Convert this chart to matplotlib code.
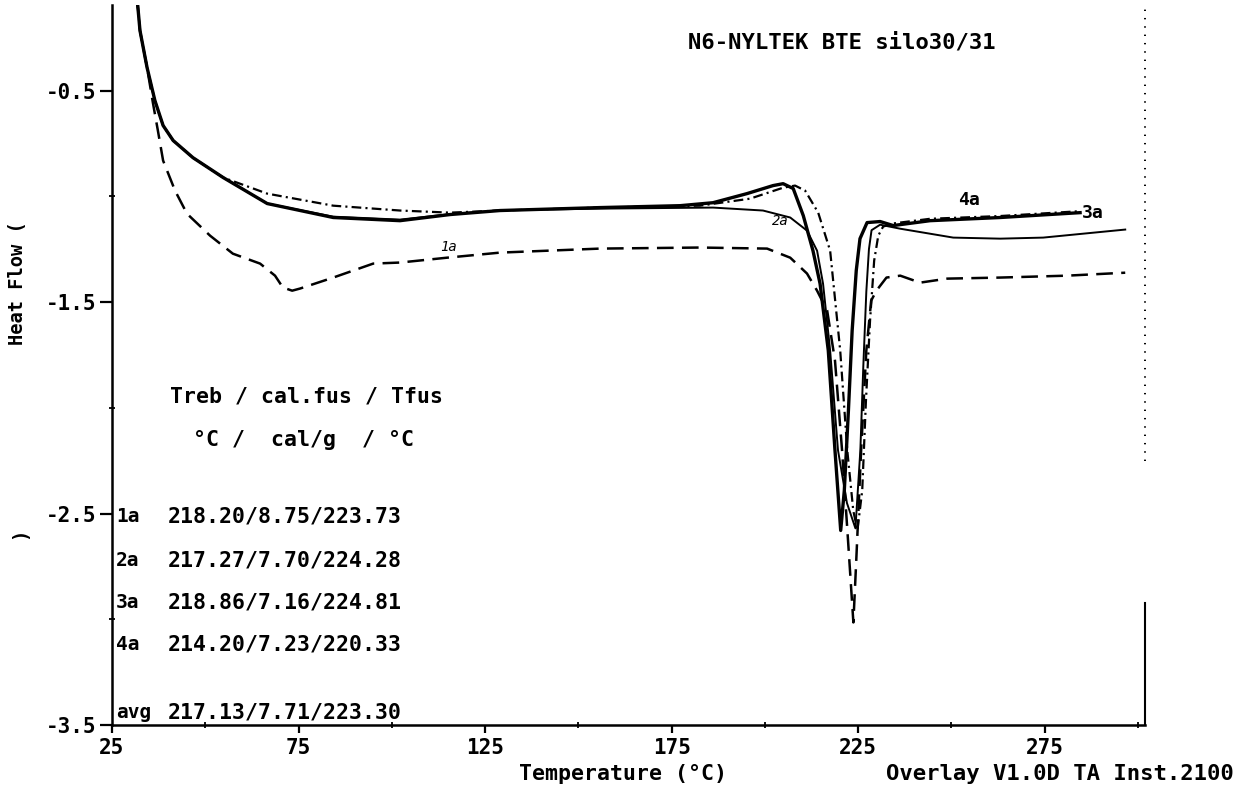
import matplotlib
matplotlib.use("Agg")
import matplotlib.pyplot as plt
from matplotlib.ticker import MultipleLocator

plt.rcParams['font.family'] = ['DejaVu Sans Mono', 'DejaVu Sans']
plt.rcParams['font.weight'] = 'bold'
plt.rcParams['axes.unicode_minus'] = False
plt.rcParams['lines.scale_dashes'] = False

# DSC overlay, heat flow vs temperature for four runs
t_1a = [31.5, 32.5, 34.4, 36.0, 37.3, 38.7, 41.9, 45.1, 51.3, 57.4, 64.7, 68.7,
        70.8, 73.3, 75.4, 84.3, 95.0, 102.2, 114.8, 129.0, 155.8, 182.6, 200.6,
        206.8, 211.3, 214.0, 216.7, 218.8, 220.7, 222.3, 223.73, 224.5, 225.8,
        227.2, 228.5, 229.9, 232.6, 236.3, 241.6, 248.9, 263.1, 281.0, 296.6]
hf_1a = [-0.02, -0.216, -0.391, -0.561, -0.689, -0.831, -0.973, -1.082, -1.186,
         -1.271, -1.318, -1.375, -1.431, -1.446, -1.436, -1.384, -1.318, -1.313,
         -1.29, -1.266, -1.247, -1.242, -1.247, -1.29, -1.365, -1.446, -1.54,
         -1.777, -2.202, -2.628, -3.015, -2.722, -2.202, -1.729, -1.493, -1.446,
         -1.384, -1.375, -1.408, -1.389, -1.384, -1.375, -1.361]

t_2a = [31.5, 32.5, 34.4, 36.5, 38.7, 41.4, 46.7, 54.8, 66.6, 84.3, 102.2,
        115.6, 129.0, 155.8, 186.1, 199.5, 206.8, 211.3, 214.0, 215.6, 217.5,
        219.6, 222.0, 224.28, 225.6, 226.4, 227.2, 227.9, 228.6, 230.9, 236.3,
        250.5, 263.1, 274.6, 296.6]
hf_2a = [-0.02, -0.216, -0.391, -0.547, -0.665, -0.736, -0.817, -0.911, -1.034,
         -1.096, -1.11, -1.084, -1.066, -1.058, -1.053, -1.067, -1.1, -1.162,
         -1.257, -1.413, -1.729, -2.2, -2.45, -2.57, -2.2, -1.8, -1.45, -1.25,
         -1.16, -1.134, -1.153, -1.195, -1.2, -1.195, -1.157]

t_3a = [31.5, 32.5, 34.4, 36.5, 38.7, 41.4, 46.7, 54.8, 66.6, 84.3, 102.2,
        115.6, 129.0, 155.8, 182.6, 196.0, 204.9, 208.1, 210.8, 214.3, 217.5,
        220.2, 222.1, 223.7, 224.81, 226.1, 227.1, 228.2, 229.3, 230.4, 231.7,
        234.4, 244.3, 263.1, 284.5]
hf_3a = [-0.02, -0.216, -0.391, -0.547, -0.665, -0.736, -0.817, -0.911, -0.987,
         -1.044, -1.067, -1.077, -1.067, -1.053, -1.044, -1.011, -0.959, -0.949,
         -0.973, -1.077, -1.257, -1.729, -2.202, -2.486, -2.58, -2.391, -1.966,
         -1.587, -1.304, -1.186, -1.143, -1.128, -1.106, -1.093, -1.07]

t_4a = [31.5, 32.5, 34.4, 36.5, 38.7, 41.4, 46.7, 54.8, 66.6, 84.3, 102.2,
        115.6, 129.0, 155.8, 177.3, 186.1, 195.2, 202.2, 204.9, 207.6, 210.3,
        212.9, 214.8, 217.0, 218.8, 220.33, 221.3, 222.4, 223.4, 224.5, 225.5,
        227.4, 230.9, 234.4, 244.3, 263.1, 284.5]
hf_4a = [-0.02, -0.216, -0.391, -0.547, -0.665, -0.736, -0.817, -0.911, -1.034,
         -1.1, -1.115, -1.086, -1.067, -1.053, -1.044, -1.03, -0.987, -0.949,
         -0.94, -0.963, -1.091, -1.257, -1.413, -1.729, -2.202, -2.58, -2.391,
         -2.013, -1.635, -1.351, -1.2, -1.124, -1.119, -1.138, -1.115, -1.1,
         -1.077]

# results table: Treb / cal.fus / Tfus
run_names = ['1a', '2a', '3a', '4a', 'avg']
treb = [218.20, 217.27, 218.86, 214.20, 217.13]
cal_fus = [8.75, 7.70, 7.16, 7.23, 7.71]
tfus = [223.73, 224.28, 224.81, 220.33, 223.30]

x_ticks = [25, 75, 125, 175, 225, 275]
y_ticks = [-0.5, -1.5, -2.5, -3.5]

W, H = 1238, 788
fig = plt.figure(figsize=(W / 100, H / 100), dpi=100)
ax = fig.add_axes([112 / W, 1 - 725 / H, 1033 / W, 720 / H])

ax.plot(t_1a, hf_1a, color='black', lw=1.8, dashes=(12, 6))
ax.plot(t_2a, hf_2a, color='black', lw=1.4)
ax.plot(t_3a, hf_3a, color='black', lw=1.6, dashes=(7, 3, 1.5, 3))
ax.plot(t_4a, hf_4a, color='black', lw=2.4, solid_joinstyle='round')

ax.set_xlim(25, 301.9)
ax.set_ylim(-3.5, -0.095)

ax.set_xticks(x_ticks)
ax.set_yticks(y_ticks)
ax.xaxis.set_minor_locator(MultipleLocator(50))
ax.yaxis.set_minor_locator(MultipleLocator(1.0))
ax.tick_params(axis='both', which='major', direction='out', length=9,
               width=1.6, labelsize=15, pad=2)
ax.tick_params(axis='x', which='major', length=6, pad=3)
ax.tick_params(axis='both', which='minor', direction='inout', length=5, width=1.3)

for side in ['top', 'right']:
    ax.spines[side].set_visible(False)
for side in ['left', 'bottom']:
    ax.spines[side].set_linewidth(1.8)

# right border: dotted above, solid near the base
ax.plot([1, 1], [0.367, 1.0], transform=ax.transAxes, color='black', lw=1.4,
        ls=(0, (1, 5)), clip_on=False)
ax.plot([1, 1], [0.0, 0.17], transform=ax.transAxes, color='black', lw=1.5,
        clip_on=False)

def fx(px):
    return px / W

def fy(py):
    return 1 - py / H

fig.text(fx(688), fy(43), 'N6-NYLTEK BTE silo30/31', fontsize=16, va='center')
fig.text(fx(623), fy(774), 'Temperature (°C)', fontsize=15.5, ha='center', va='center')
fig.text(fx(1234), fy(774), 'Overlay V1.0D TA Inst.2100', fontsize=16,
         ha='right', va='center')
fig.text(fx(18), fy(283), 'Heat Flow (', fontsize=13.5, rotation=90,
         ha='center', va='center')
fig.text(fx(20), fy(533), ')', fontsize=13.5, rotation=90, ha='center', va='center')

fig.text(fx(170), fy(397), 'Treb / cal.fus / Tfus', fontsize=15.5, va='center')
fig.text(fx(193), fy(440), '°C /  cal/g  / °C', fontsize=15.5, va='center')
row_y = [517, 560, 603, 645, 712]
for name, tr, cf, tf, py in zip(run_names, treb, cal_fus, tfus, row_y):
    fig.text(fx(116), fy(py), name, fontsize=14, va='center')
    fig.text(fx(168), fy(py), f'{tr:.2f}/{cf:.2f}/{tf:.2f}', fontsize=15.5,
             va='center')

# curve tags
fig.text(fx(440), fy(247), '1a', fontsize=10, style='italic',
         fontweight='normal', va='center')
fig.text(fx(772), fy(221), '2a', fontsize=10, style='italic',
         fontweight='normal', va='center')
fig.text(fx(958), fy(200), '4a', fontsize=13, va='center')
fig.text(fx(1082), fy(213), '3a', fontsize=13, va='center')

fig.savefig('out.png', dpi=100, facecolor='white')
